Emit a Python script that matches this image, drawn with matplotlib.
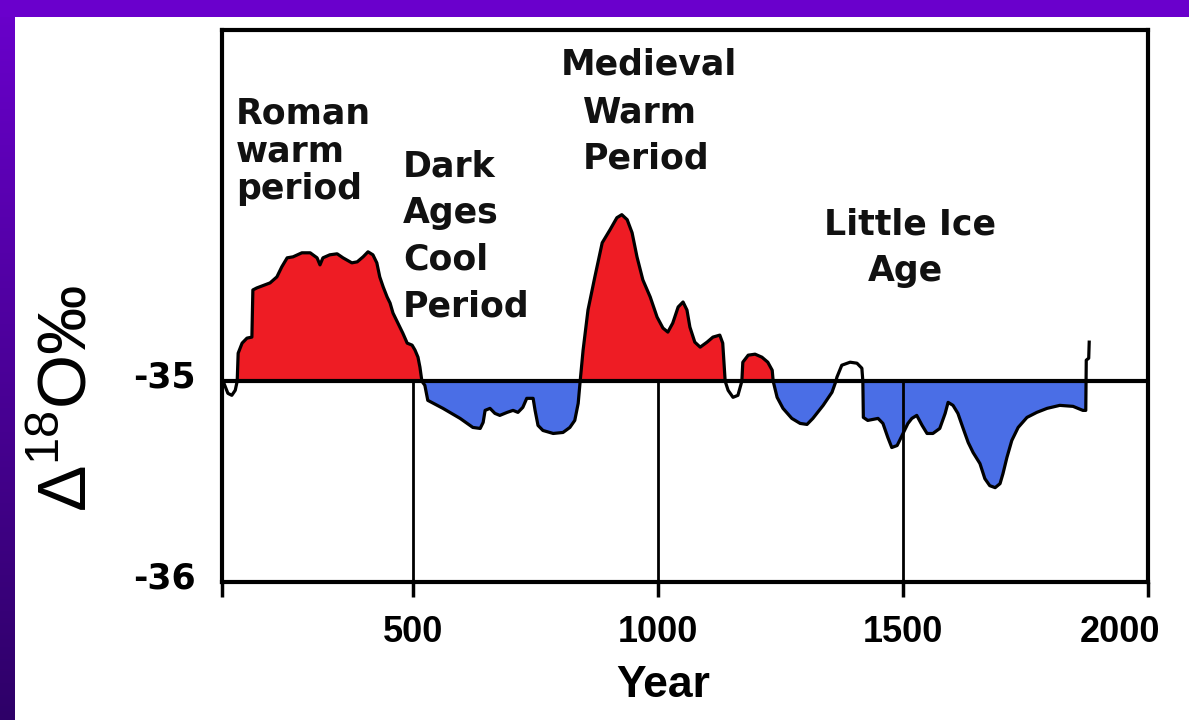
import numpy as np
import matplotlib
matplotlib.use("Agg")
import matplotlib.pyplot as plt
from matplotlib.colors import LinearSegmentedColormap
from matplotlib.patches import Rectangle
from matplotlib.transforms import ScaledTranslation

# delta-18O record
years = [114, 122, 130, 137, 141, 143, 151, 161, 171, 173, 181, 208, 222, 232, 243,
         255, 273, 290, 304, 310, 316, 330, 345, 357, 375, 386, 398, 408, 418, 426,
         432, 439, 447, 453, 459, 469, 479, 488, 498, 504, 510, 514, 518,
         524, 530, 561, 596, 622, 637, 643, 647, 657, 667, 677, 692, 704, 714, 724,
         732, 745, 749, 755, 765, 786, 806, 820, 830, 837, 841,
         847, 857, 871, 886, 902, 916, 926, 937, 947, 957, 969, 984, 998, 1010, 1020,
         1030, 1041, 1051, 1059, 1065, 1075, 1086, 1100, 1112, 1126, 1132, 1137,
         1143, 1153, 1163, 1171, 1173, 1184, 1198, 1212, 1224, 1233, 1235,
         1243, 1255, 1273, 1290, 1304, 1316, 1337, 1355, 1363, 1365, 1375, 1392,
         1406, 1416, 1418, 1419, 1428, 1449, 1459, 1469, 1477, 1488, 1500, 1510,
         1518, 1528, 1539, 1549, 1561, 1575, 1586, 1592, 1602, 1612, 1622, 1633,
         1643, 1657, 1667, 1677, 1688, 1698, 1704, 1712, 1722, 1735, 1753, 1773,
         1794, 1820, 1847, 1867, 1873, 1874, 1879, 1880]
d18o = [-35.01, -35.06, -35.07, -35.045, -35.0, -34.86, -34.81, -34.785, -34.78, -34.545,
        -34.535, -34.51, -34.48, -34.43, -34.385, -34.38, -34.36, -34.36, -34.385, -34.42,
        -34.385, -34.37, -34.365, -34.385, -34.41, -34.405, -34.38, -34.355, -34.37, -34.41,
        -34.48, -34.53, -34.58, -34.61, -34.66, -34.71, -34.76, -34.81, -34.82, -34.845,
        -34.88, -34.93, -35.0,
        -35.02, -35.095, -35.135, -35.185, -35.23, -35.235, -35.205, -35.145, -35.135,
        -35.16, -35.17, -35.155, -35.145, -35.155, -35.13, -35.085, -35.085, -35.145,
        -35.22, -35.245, -35.26, -35.255, -35.23, -35.195, -35.11, -35.0,
        -34.845, -34.645, -34.48, -34.31, -34.245, -34.185, -34.17, -34.195, -34.26,
        -34.38, -34.495, -34.58, -34.68, -34.735, -34.755, -34.71, -34.63, -34.605,
        -34.645, -34.73, -34.805, -34.83, -34.805, -34.78, -34.77, -34.81, -35.0,
        -35.045, -35.08, -35.07, -35.0, -34.905, -34.87, -34.865, -34.88, -34.905,
        -34.945, -35.0,
        -35.08, -35.135, -35.185, -35.21, -35.215, -35.185, -35.12, -35.055, -35.0,
        -34.98, -34.92, -34.905, -34.91, -34.935, -35.0, -35.18, -35.195, -35.185,
        -35.21, -35.28, -35.33, -35.32, -35.26, -35.21, -35.185, -35.17, -35.22,
        -35.26, -35.26, -35.235, -35.16, -35.105, -35.12, -35.16, -35.23, -35.305,
        -35.355, -35.41, -35.485, -35.52, -35.53, -35.51, -35.46, -35.38, -35.295,
        -35.23, -35.18, -35.155, -35.135, -35.12, -35.125, -35.145, -35.145,
        -34.895, -34.885, -34.805]
baseline = -35.0
# stretches the original leaves without colour
unshaded = [(114, 141), (1137, 1171), (1363, 1418), (1873, 1881)]

x_ticks = [110, 500, 1000, 1500, 2000]
x_tick_labels = ["", "500", "1000", "1500", "2000"]
y_ticks = [-36, -35]
y_tick_labels = ["-36", "-35"]

periods = [
    ("Roman", 139, -33.715, "left"), ("warm", 139, -33.905, "left"),
    ("period", 139, -34.09, "left"),
    ("Dark", 479, -33.98, "left"), ("Ages", 479, -34.21, "left"),
    ("Cool", 479, -34.445, "left"), ("Period", 479, -34.675, "left"),
    ("Medieval", 981, -33.47, "center"), ("Warm", 963, -33.71, "center"),
    ("Period", 975, -33.94, "center"),
    ("Little Ice", 1514, -34.27, "center"), ("Age", 1504, -34.5, "center"),
]

RED = "#ee1c24"
BLUE = "#4a6ee6"

plt.rcParams["mathtext.fontset"] = "custom"
plt.rcParams["mathtext.rm"] = "Liberation Sans"

fig = plt.figure(figsize=(11.89, 7.2), dpi=100)
fig.patch.set_facecolor("white")

# purple slide border
fig.patches.append(Rectangle((0, 1 - 17 / 720), 1, 17 / 720, transform=fig.transFigure,
                             facecolor="#6a00cc", edgecolor="none", zorder=0))
strip = fig.add_axes([0, 0, 15 / 1189, 1])
cmap = LinearSegmentedColormap.from_list("slide", ["#6a00cc", "#2e0068"])
strip.imshow(np.linspace(0, 1, 256).reshape(-1, 1), aspect="auto", cmap=cmap)
strip.axis("off")

ax = fig.add_axes([222 / 1189, 138 / 720, 926 / 1189, 552 / 720])
x = np.array(years, dtype=float)
y = np.array(d18o)
shade = np.ones_like(x, dtype=bool)
for a, b in unshaded:
    shade &= ~((x > a) & (x < b))

ax.fill_between(x, y, baseline, where=(y >= baseline) & shade, interpolate=True,
                color=RED, linewidth=0, zorder=1)
ax.fill_between(x, y, baseline, where=(y <= baseline) & shade, interpolate=True,
                color=BLUE, linewidth=0, zorder=1)
ax.plot(x, y, color="black", linewidth=2.3, zorder=3)
ax.axhline(baseline, color="black", linewidth=3, zorder=4)
ax.vlines([500, 1000, 1500], -36, baseline, color="black", linewidth=2, zorder=2)

ax.set_xlim(110, 2000)
ax.set_ylim(-36, -33.25)
for s in ax.spines.values():
    s.set_linewidth(3)

ax.set_xticks(x_ticks)
ax.set_xticklabels(x_tick_labels, fontfamily="Liberation Sans", fontweight="bold",
                   fontsize=26)
ax.set_yticks(y_ticks)
ax.set_yticklabels(y_tick_labels, fontfamily="DejaVu Sans", fontweight="bold",
                   fontsize=25)
ax.tick_params(axis="x", direction="out", length=11, width=2.5, pad=13)
ax.tick_params(axis="y", length=0, pad=19)

lbl = ax.get_xticklabels()[-1]
lbl.set_transform(lbl.get_transform() + ScaledTranslation(-0.28, 0, fig.dpi_scale_trans))
for lbl in ax.get_yticklabels():
    lbl.set_transform(lbl.get_transform() + ScaledTranslation(0, 0.07, fig.dpi_scale_trans))

ax.set_xlabel("Year", fontfamily="Liberation Sans", fontweight="bold", fontsize=32,
              va="center")
ax.xaxis.set_label_coords(0.477, -0.188)
ax.set_ylabel("Δ$^{\\mathrm{18}}$O‰", fontfamily="Liberation Sans", fontsize=50,
              va="center", ha="center", rotation_mode="default")
ax.yaxis.set_label_coords(-0.166, 0.333)

for txt, px, py, ha in periods:
    ax.text(px, py, txt, ha=ha, va="baseline", fontfamily="DejaVu Sans",
            fontweight="bold", fontsize=25, color="#111111", zorder=5)

fig.savefig("out.png", dpi=100, facecolor="white")
